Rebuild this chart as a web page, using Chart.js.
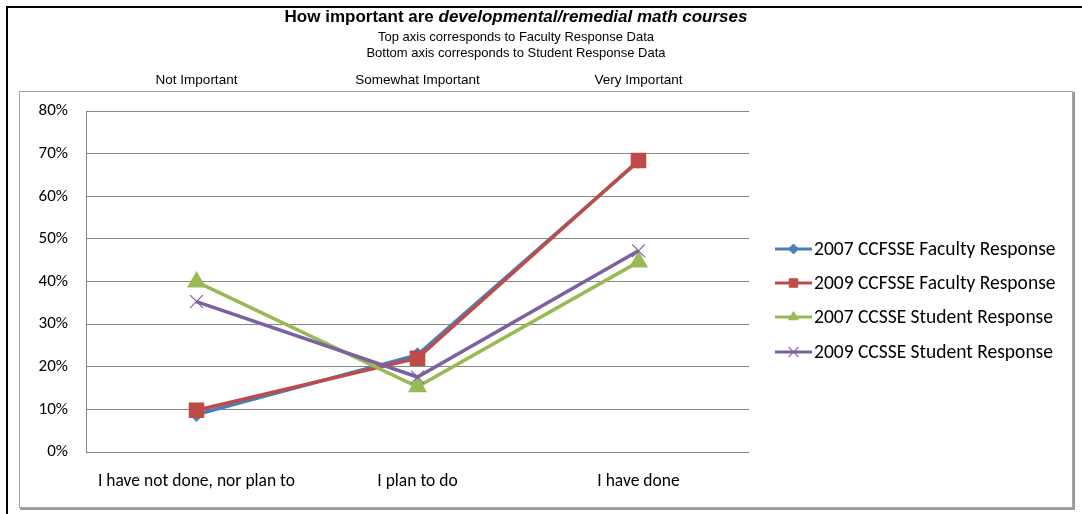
<!DOCTYPE html>
<html>
<head>
<meta charset="utf-8">
<script src="https://cdn.jsdelivr.net/npm/chart.js@4/dist/chart.umd.min.js"></script>
<style>
  body { margin: 0; background: #fff; }
  #wrap { position: relative; width: 1082px; height: 514px; }
</style>
</head>
<body>
<div id="wrap"><canvas id="lineChart"></canvas></div>
<script>
// data (percent)
const studentLabels = ['I have not done, nor plan to', 'I plan to do', 'I have done'];
const facultyLabels = ['Not Important', 'Somewhat Important', 'Very Important'];
const seriesNames = [
  '2007 CCFSSE Faculty Response',
  '2009 CCFSSE Faculty Response',
  '2007 CCSSE Student Response',
  '2009 CCSSE Student Response'
];
const faculty2007 = [8.8, 22.8, 68.2];
const faculty2009 = [9.8, 22.0, 68.4];
const student2007 = [39.9, 15.3, 44.6];
const student2009 = [35.3, 17.6, 47.2];
const yTicks = [0, 10, 20, 30, 40, 50, 60, 70, 80];

const calibri = 'Carlito, Lato, sans-serif';
const arial = '"Liberation Sans", Arial, sans-serif';

// frames, title and subtitles
const framePlugin = {
  id: 'frame',
  beforeDraw(chart) {
    const ctx = chart.ctx;
    ctx.save();
    ctx.fillStyle = '#fff';
    ctx.fillRect(0, 0, chart.width, chart.height);
    // outer black frame (top + left)
    ctx.strokeStyle = '#000';
    ctx.lineWidth = 2;
    ctx.beginPath();
    ctx.moveTo(1082, 7);
    ctx.lineTo(7, 7);
    ctx.lineTo(7, 514);
    ctx.stroke();
    // inner gray box
    ctx.strokeStyle = '#a6a6a6';
    ctx.lineWidth = 1;
    ctx.strokeRect(19.5, 91.5, 1053, 416);
    ctx.strokeStyle = '#9a9a9a';
    ctx.lineWidth = 2;
    ctx.beginPath();
    ctx.moveTo(1074, 92);
    ctx.lineTo(1074, 509);
    ctx.lineTo(20, 509);
    ctx.stroke();
    ctx.restore();
  },
  afterDraw(chart) {
    const ctx = chart.ctx;
    ctx.save();
    ctx.fillStyle = '#000';
    ctx.textBaseline = 'middle';
    const cx = 516;
    const a = 'How important are ';
    const b = 'developmental/remedial math courses';
    ctx.font = 'bold 17px ' + arial;
    const wa = ctx.measureText(a).width;
    ctx.font = 'italic bold 17px ' + arial;
    const wb = ctx.measureText(b).width;
    const x = cx - (wa + wb) / 2;
    ctx.textAlign = 'left';
    ctx.font = 'bold 17px ' + arial;
    ctx.fillText(a, x, 17);
    ctx.font = 'italic bold 17px ' + arial;
    ctx.fillText(b, x + wa, 17);
    ctx.textAlign = 'center';
    ctx.font = '13px ' + arial;
    ctx.fillText('Top axis corresponds to Faculty Response Data', cx, 37);
    ctx.fillText('Bottom axis corresponds to Student Response Data', cx, 53);
    ctx.restore();
  }
};

// legend with a line + marker sample, like the original
const sideLegend = {
  id: 'sideLegend',
  afterDraw(chart) {
    const ctx = chart.ctx;
    const rows = [249, 283, 317, 352];
    ctx.save();
    chart.data.datasets.forEach((ds, i) => {
      const y = rows[i];
      ctx.strokeStyle = ds.borderColor;
      ctx.lineWidth = 3;
      ctx.beginPath();
      ctx.moveTo(775, y);
      ctx.lineTo(812, y);
      ctx.stroke();
      ctx.fillStyle = ds.borderColor;
      ctx.strokeStyle = ds.borderColor;
      ctx.lineWidth = ds.pointBorderWidth || 1;
      Chart.helpers.drawPoint(ctx, {
        pointStyle: ds.pointStyle,
        radius: ds.legendRadius,
        borderWidth: ds.pointBorderWidth || 1,
        rotation: 0
      }, 793.5, y);
      ctx.fillStyle = '#000';
      ctx.font = '19.5px ' + calibri;
      ctx.textAlign = 'left';
      ctx.textBaseline = 'middle';
      ctx.fillText(ds.label, 814, y + 1);
    });
    ctx.restore();
  }
};

function pointOpts(color, style, radius, legendRadius, order) {
  return {
    borderColor: color,
    backgroundColor: color,
    pointBackgroundColor: color,
    pointBorderColor: color,
    pointStyle: style,
    pointRadius: radius,
    pointHoverRadius: radius,
    legendRadius: legendRadius,
    borderWidth: 3.5,
    tension: 0,
    order: order,
    xAxisID: 'x',
    yAxisID: 'y'
  };
}

const chartData = {
  labels: studentLabels,
  datasets: [
    Object.assign({ label: seriesNames[0], data: faculty2007 }, pointOpts('#4a7ebb', 'rectRot', 5, 5, 4)),
    Object.assign({ label: seriesNames[1], data: faculty2009 }, pointOpts('#be4b48', 'rect', 8.5, 6, 3)),
    Object.assign({ label: seriesNames[2], data: student2007 }, pointOpts('#98b954', 'triangle', 7.5, 5.5, 2)),
    Object.assign({ label: seriesNames[3], data: student2009, pointBorderWidth: 1.2 }, pointOpts('#7d60a0', 'crossRot', 9, 7, 1))
  ]
};

new Chart(document.getElementById('lineChart').getContext('2d'), {
  type: 'line',
  data: chartData,
  plugins: [framePlugin, sideLegend],
  options: {
    responsive: true,
    maintainAspectRatio: false,
    animation: false,
    layout: { padding: { left: 0, right: 333, top: 0, bottom: 0 } },
    plugins: {
      legend: { display: false },
      title: { display: false },
      tooltip: { enabled: false }
    },
    scales: {
      x: {
        type: 'category',
        position: 'bottom',
        offset: true,
        grid: { display: false },
        border: { display: false },
        ticks: { color: '#000', font: { family: calibri, size: 17.5 }, padding: 11, maxRotation: 0 },
        afterFit(scale) { scale.height = 62; }
      },
      x2: {
        type: 'category',
        position: 'top',
        labels: facultyLabels,
        offset: true,
        grid: { display: false },
        border: { display: false },
        ticks: { color: '#000', font: { family: arial, size: 13.5 }, padding: 15, maxRotation: 0 },
        afterFit(scale) { scale.height = 111; }
      },
      y: {
        min: 0,
        max: 80,
        afterBuildTicks(scale) { scale.ticks = yTicks.map(v => ({ value: v })); },
        grid: { color: '#868686', lineWidth: 1, drawTicks: false },
        border: { display: true, color: '#868686', width: 1 },
        ticks: {
          color: '#000',
          font: { family: calibri, size: 17 },
          padding: 18,
          callback: v => v + '%'
        },
        afterFit(scale) { scale.width = 86; }
      }
    }
  }
});
</script>
</body>
</html>
